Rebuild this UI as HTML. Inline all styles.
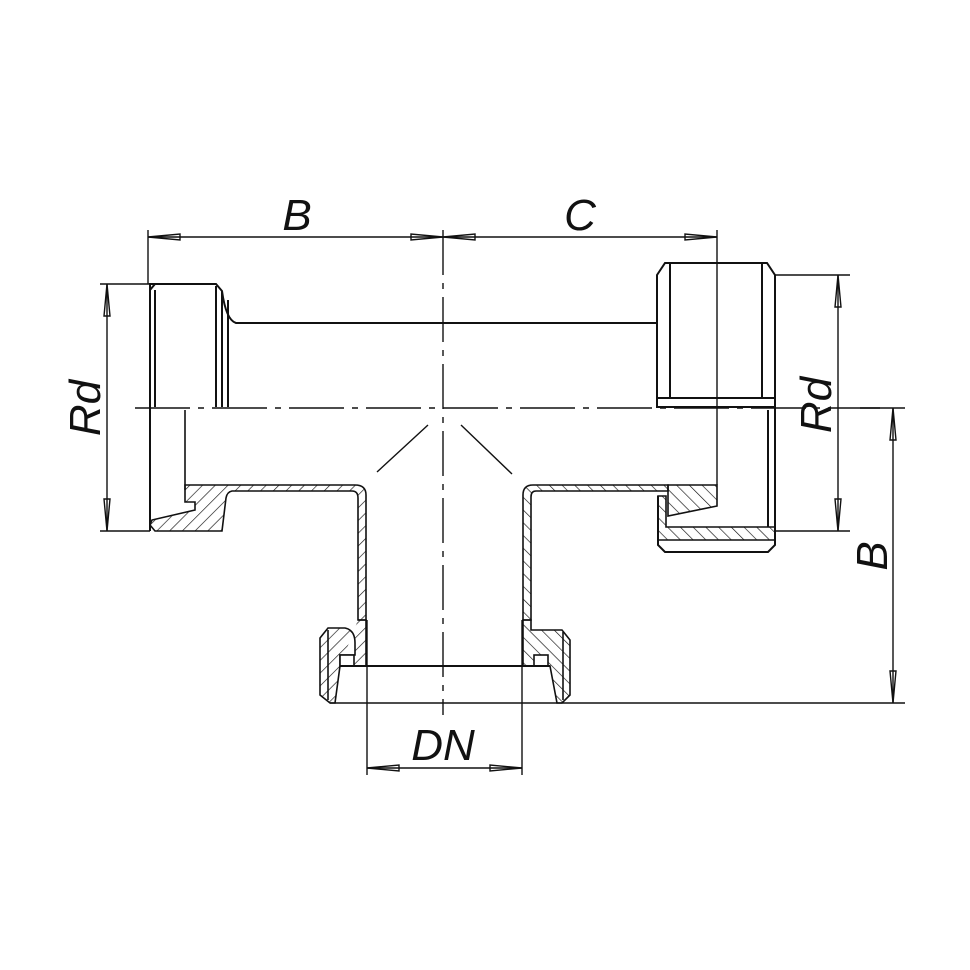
<!DOCTYPE html>
<html><head><meta charset="utf-8"><style>html,body{margin:0;background:#fff}svg{display:block}</style></head><body>
<svg width="970" height="970" viewBox="0 0 970 970" xmlns="http://www.w3.org/2000/svg">
<defs>
<pattern id="h" patternUnits="userSpaceOnUse" width="9" height="9" patternTransform="rotate(45)">
<line x1="0" y1="0" x2="0" y2="9" stroke="#111" stroke-width="1.3"/></pattern>
<pattern id="h2" patternUnits="userSpaceOnUse" width="9" height="9" patternTransform="rotate(-45)">
<line x1="0" y1="0" x2="0" y2="9" stroke="#111" stroke-width="1.3"/></pattern>
</defs>
<g fill="none" stroke="#111" stroke-width="2">
<!-- left hatched -->
<path d="M185,485 L355,485 Q366,485 366,495 L366,620 L358,620 L358,498 Q358,491 352,491 L232,491 Q227,492 226,498 L222,531 L155,531 L150,525 L152,520 L195,510 L195,502 L185,502 Z" fill="url(#h)" stroke-width="1.6"/>
<!-- right pipe wall -->
<path d="M523,620 L523,495 Q523,485 533,485 L668,485 L668,491 L536,491 Q531,491 531,497 L531,620 Z" fill="url(#h2)" stroke-width="1.6"/>
<path d="M668,485 L717,485 L717,506 L668,516 Z" fill="url(#h2)" stroke-width="1.6"/>
<path d="M658,496 L666,496 L666,527 L775,527 L775,540 L658,540 Z" fill="url(#h2)" stroke-width="1.6"/>
<!-- bottom fitting hatched -->
<path d="M358,620 L366,620 L366,666 L340,666 L340,655 L355,655 L355,643 Q355,630 345,628 L328,628 L320,638 L320,695 L330,703 L335,703 L340,666" fill="url(#h)" stroke-width="1.6"/>
<path d="M523,620 L531,620 L531,630 L562,630 L570,640 L570,695 L562,703 L557,703 L550,666 L523,666 Z" fill="url(#h2)" stroke-width="1.6"/>
<rect x="340" y="655" width="14" height="11" fill="#fff" stroke-width="1.6"/>
<rect x="534" y="655" width="14" height="11" fill="#fff" stroke-width="1.6"/>
<line x1="328" y1="630" x2="328" y2="700" stroke-width="1.6"/>
<line x1="563" y1="632" x2="563" y2="700" stroke-width="1.6"/>
<!-- left fitting outline -->
<path d="M150,531 L150,284 L216,284 L222,291 Q226,320 236,323 L657,323"/>
<path d="M155,290 L155,407 M216,286 L216,407 M222,291 L222,407 M228,300 L228,407"/>
<path d="M150,290 L155,284"/>
<line x1="185" y1="410" x2="185" y2="490" stroke-width="1.6"/>
<!-- right fitting -->
<path d="M657,407 L657,275 L665,263 L767,263 L775,275 L775,407 Z"/>
<path d="M670,263 L670,398 M762,263 L762,398 M657,398 L775,398"/>
<path d="M768,410 L768,527 M775,407 L775,545 L768,552 L665,552 L658,545 L658,496"/>
<line x1="717" y1="230" x2="717" y2="485" stroke-width="1.4"/>
<!-- bore lines -->
<line x1="367" y1="620" x2="367" y2="775" stroke-width="1.4"/>
<line x1="522" y1="620" x2="522" y2="775" stroke-width="1.4"/>
<line x1="340" y1="666" x2="550" y2="666"/>
<line x1="330" y1="703" x2="905" y2="703" stroke-width="1.6"/>
<line x1="428" y1="425" x2="377" y2="472" stroke-width="1.4"/>
<line x1="461" y1="425" x2="512" y2="474" stroke-width="1.4"/>
<line x1="135" y1="408" x2="880" y2="408" stroke-width="1.4" stroke-dasharray="55,8,6,8"/>
<line x1="443" y1="230" x2="443" y2="715" stroke-width="1.4" stroke-dasharray="45,8,6,8"/>
</g>
<g fill="none" stroke="#111" stroke-width="1.4">
<line x1="148" y1="230" x2="148" y2="284"/>
<line x1="148" y1="237" x2="717" y2="237"/>
<path d="M148,237 L180,234 L180,240 Z M443,237 L411,234 L411,240 Z M443,237 L475,234 L475,240 Z M717,237 L685,234 L685,240 Z"/>
<line x1="100" y1="284" x2="150" y2="284"/><line x1="100" y1="531" x2="150" y2="531"/>
<line x1="107" y1="284" x2="107" y2="531"/>
<path d="M107,284 L104,316 L110,316 Z M107,531 L104,499 L110,499 Z"/>
<line x1="775" y1="275" x2="850" y2="275"/><line x1="775" y1="531" x2="850" y2="531"/>
<line x1="838" y1="275" x2="838" y2="531"/>
<path d="M838,275 L835,307 L841,307 Z M838,531 L835,499 L841,499 Z"/>
<line x1="860" y1="408" x2="905" y2="408"/>
<line x1="893" y1="408" x2="893" y2="703"/>
<path d="M893,408 L890,440 L896,440 Z M893,703 L890,671 L896,671 Z"/>
<line x1="367" y1="768" x2="522" y2="768"/>
<path d="M367,768 L399,765 L399,771 Z M522,768 L490,765 L490,771 Z"/>
</g>
<g font-family="Liberation Sans, sans-serif" font-style="italic" font-size="44" fill="#111" text-anchor="middle">
<text x="297" y="230">B</text>
<text x="580" y="230">C</text>
<text x="443" y="760">DN</text>
<text transform="translate(100,408) rotate(-90)">Rd</text>
<text transform="translate(831,405) rotate(-90)">Rd</text>
<text transform="translate(887,556) rotate(-90)">B</text>
</g>
</svg>
</body></html>
